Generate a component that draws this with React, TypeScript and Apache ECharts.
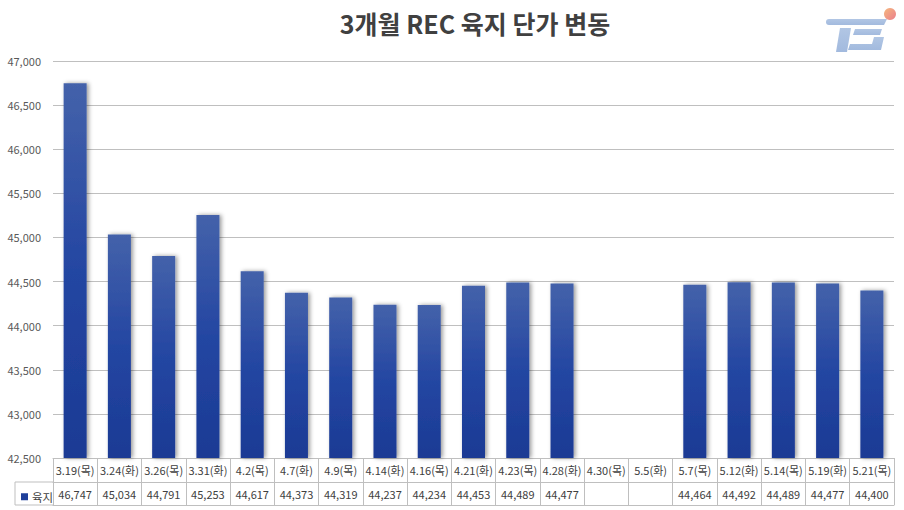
import React, { useEffect, useRef } from "react";
import * as echarts from "echarts";

const title = "3개월 REC 육지 단가 변동";
const seriesName = "육지";
const categories = [
  "3.19(목)", "3.24(화)", "3.26(목)", "3.31(화)", "4.2(목)", "4.7(화)", "4.9(목)",
  "4.14(화)", "4.16(목)", "4.21(화)", "4.23(목)", "4.28(화)", "4.30(목)", "5.5(화)",
  "5.7(목)", "5.12(화)", "5.14(목)", "5.19(화)", "5.21(목)",
];
const values: (number | null)[] = [
  46747, 45034, 44791, 45253, 44617, 44373, 44319, 44237, 44234, 44453, 44489, 44477,
  null, null, 44464, 44492, 44489, 44477, 44400,
];
const yMin = 42500;
const yMax = 47000;
const yStep = 500;

const FONT = "'Noto Sans CJK KR', 'Noto Sans', sans-serif";
const fmt = (v: number) => v.toLocaleString("en-US");

export default function App() {
  const ref = useRef<HTMLDivElement>(null);
  useEffect(() => {
    if (!ref.current) return;
    const chart = echarts.init(ref.current, undefined, { renderer: "svg" });
    const GL = 53, GR = 10, GT = 61, GB = 52;
    const H = 510;
    const axisBottom = H - GB;
    const lineColor = "#bfbfbf";
    const logoColor = new echarts.graphic.LinearGradient(0, 0, 0, 1, [
      { offset: 0, color: "rgba(125,160,210,0.6)" },
      { offset: 1, color: "rgba(100,140,200,0.6)" },
    ]);
    chart.setOption({
      animation: false,
      backgroundColor: "#ffffff",
      title: {
        text: title,
        left: 470,
        top: 5,
        textAlign: "center",
        textStyle: { fontFamily: FONT, fontSize: 25, fontWeight: "bold", color: "#404040" },
      },
      legend: {
        left: 16,
        top: axisBottom + 28,
        itemWidth: 7,
        itemHeight: 7,
        icon: "rect",
        itemGap: 4,
        textStyle: { fontFamily: FONT, fontSize: 11.5, color: "#404040", padding: [0, 0, 0, -1] },
        data: [{ name: seriesName, itemStyle: { color: "#1f3f9a" } }],
      },
      grid: { left: GL, right: GR, top: GT, bottom: GB, containLabel: false },
      xAxis: [
        {
          type: "category",
          data: categories,
          position: "bottom",
          axisLine: { show: true, lineStyle: { color: lineColor, width: 1 } },
          axisTick: { show: true, length: 47, lineStyle: { color: lineColor } },
          axisLabel: { interval: 0, margin: 6, fontFamily: FONT, fontSize: 11, color: "#404040" },
          splitLine: { show: false },
        },
        {
          type: "category",
          data: categories,
          position: "bottom",
          offset: 24,
          axisLine: { show: true, lineStyle: { color: lineColor, width: 1 } },
          axisTick: { show: false },
          axisLabel: {
            interval: 0,
            margin: 6,
            fontFamily: FONT,
            fontSize: 11,
            color: "#404040",
            formatter: (_v: string, i: number) => (values[i] == null ? "" : fmt(values[i] as number)),
          },
        },
        {
          type: "category",
          data: categories,
          position: "bottom",
          offset: 47,
          axisLine: { show: true, lineStyle: { color: lineColor, width: 1 } },
          axisTick: { show: false },
          axisLabel: { show: false },
        },
      ],
      yAxis: {
        type: "value",
        min: yMin,
        max: yMax,
        interval: yStep,
        axisLine: { show: false },
        axisTick: { show: false },
        splitLine: { lineStyle: { color: lineColor, width: 1 } },
        axisLabel: {
          margin: 12,
          fontFamily: FONT,
          fontSize: 11,
          color: "#595959",
          formatter: (v: number) => fmt(v),
        },
      },
      series: [
        {
          name: seriesName,
          type: "bar",
          xAxisIndex: 0,
          data: values,
          barWidth: "52%",
          itemStyle: {
            color: new echarts.graphic.LinearGradient(0, 0, 0, 1, [
              { offset: 0, color: "#4462aa" },
              { offset: 0.5, color: "#2446a2" },
              { offset: 1, color: "#1b3a94" },
            ]),
            shadowColor: "rgba(0,0,0,0.4)",
            shadowBlur: 4,
            shadowOffsetX: 2,
            shadowOffsetY: 0,
          },
        },
      ],
      graphic: [
        {
          type: "polyline",
          shape: { points: [[GL, axisBottom + 24], [15, axisBottom + 24], [15, axisBottom + 47], [GL, axisBottom + 47]] },
          style: { stroke: lineColor, lineWidth: 1, fill: null },
          silent: true,
        },
        {
          type: "group",
          silent: true,
          children: [
            { type: "rect", shape: { x: 826, y: 19, width: 57, height: 6, r: [3, 0, 0, 3] }, style: { fill: logoColor } },
            { type: "polygon", shape: { points: [[883, 19], [887, 19], [884, 25], [883, 25]] }, style: { fill: logoColor } },
            { type: "polygon", shape: { points: [[840, 28], [851, 28], [847, 52], [836, 52]] }, style: { fill: logoColor } },
            { type: "polygon", shape: { points: [[855, 29], [882, 29], [880, 35], [853, 35]] }, style: { fill: logoColor } },
            { type: "polygon", shape: { points: [[874, 37], [884, 37], [881, 50], [848, 50], [850, 44], [872, 44]] }, style: { fill: logoColor } },
            {
              type: "circle",
              shape: { cx: 890, cy: 14, r: 6 },
              style: {
                fill: new echarts.graphic.LinearGradient(0, 0, 1, 1, [
                  { offset: 0, color: "#f4b070" },
                  { offset: 1, color: "#e87080" },
                ]),
                opacity: 0.9,
              },
            },
          ],
        },
      ],
    });
    return () => chart.dispose();
  }, []);
  return <div ref={ref} style={{ width: 904, height: 510, position: "absolute", left: 0, top: 0 }} />;
}
